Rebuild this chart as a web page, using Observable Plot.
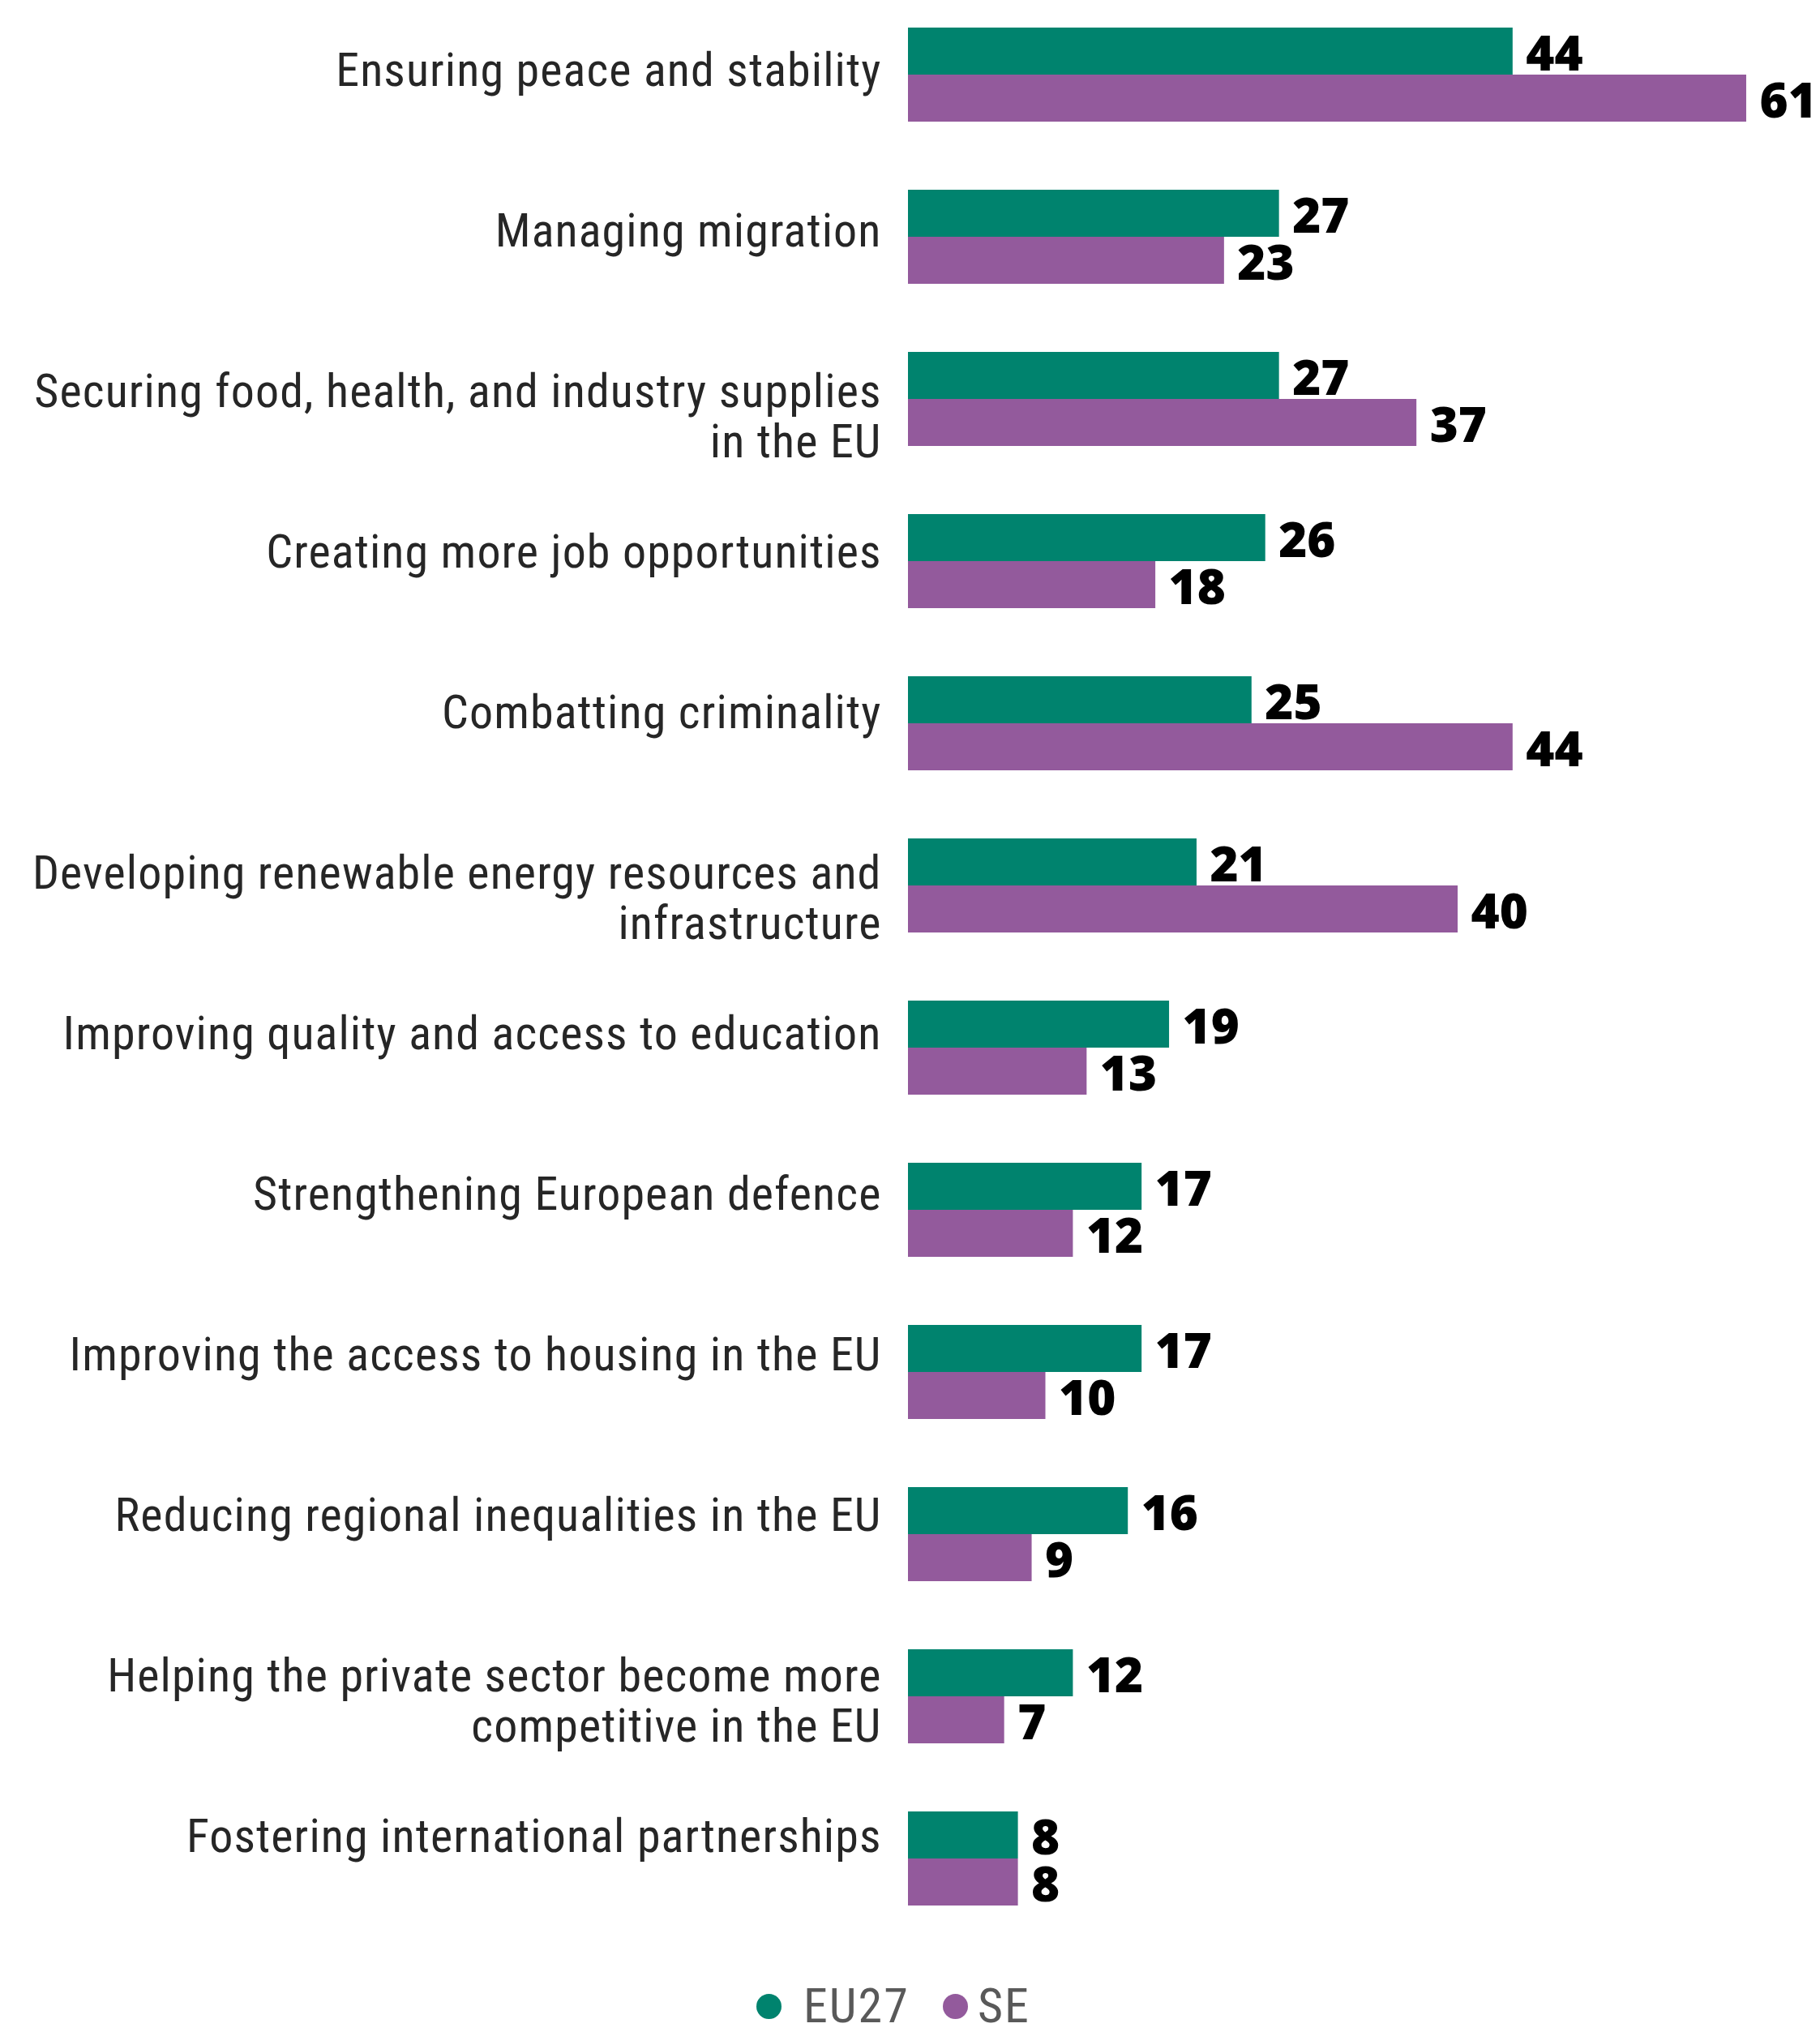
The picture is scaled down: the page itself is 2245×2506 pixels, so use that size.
<!DOCTYPE html>
<html>
<head>
<meta charset="utf-8">
<script src="https://cdn.jsdelivr.net/npm/d3@7"></script>
<script src="https://cdn.jsdelivr.net/npm/@observablehq/plot@0.6"></script>
<style>
  html, body { margin: 0; padding: 0; background: #ffffff; }
  #chart { position: relative; width: 2245px; height: 2400px; }
  #chart svg { display: block; position: absolute; left: 0; top: 0; }
  #chart g[font-size="58"] { letter-spacing: 1.1px; }
  #legend {
    height: 106px; position: relative;
    font-family: "Liberation Sans Narrow", "Roboto Condensed", Roboto, sans-serif;
    font-size: 60px; letter-spacing: 2px; color: #595959;
  }
  #legend .item { position: absolute; top: 44px; display: flex; align-items: center; line-height: 1; }
  #legend .sw { width: 31px; height: 31px; border-radius: 50%; display: inline-block; }
</style>
</head>
<body>
<div id="chart"></div>
<div id="legend"></div>
<script>
const categories = [
  "Ensuring peace and stability",
  "Managing migration",
  "Securing food, health, and industry supplies\nin the EU",
  "Creating more job opportunities",
  "Combatting criminality",
  "Developing renewable energy resources and\ninfrastructure",
  "Improving quality and access to education",
  "Strengthening European defence",
  "Improving the access to housing in the EU",
  "Reducing regional inequalities in the EU",
  "Helping the private sector become more\ncompetitive in the EU",
  "Fostering international partnerships"
];
const eu27 = [44, 27, 27, 26, 25, 21, 19, 17, 17, 16, 12, 8];
const se   = [61, 23, 37, 18, 44, 40, 13, 12, 10,  9,  7, 8];
const series = ["EU27", "SE"];
const colors = ["#00836e", "#935a9c"];

const data = categories.flatMap((c, i) => [
  {category: c, series: "EU27", value: eu27[i]},
  {category: c, series: "SE", value: se[i]}
]);

const labelFont = `"Liberation Sans Narrow", "Roboto Condensed", Roboto, sans-serif`;
const valueFont = `"Open Sans", "Noto Sans", sans-serif`;

// Bars and value labels
const bars = Plot.plot({
  width: 2245,
  height: 2400,
  marginLeft: 1120,
  marginRight: 0,
  marginTop: 0,
  marginBottom: 0,
  x: {domain: [0, 66.37], axis: null},
  fy: {domain: categories, padding: 0, axis: null},
  y: {domain: series, paddingInner: 0, paddingOuter: 0.709, align: 0.41, axis: null},
  color: {domain: series, range: colors},
  marks: [
    Plot.barX(data, {fy: "category", y: "series", x: "value", fill: "series"}),
    Plot.text(data, {
      fy: "category", y: "series", x: "value",
      text: d => String(d.value),
      textAnchor: "start", dx: 16, dy: 4,
      fontSize: 60, fontWeight: 800, fontFamily: valueFont, fill: "#000"
    })
  ]
});

// Category labels (laid out on their own, slightly tighter row grid as in the original)
const labels = Plot.plot({
  width: 2245,
  height: 2400,
  marginLeft: 1120,
  marginRight: 0,
  marginTop: 0,
  marginBottom: 22,
  x: {domain: [0, 66.37], axis: null},
  fy: {domain: categories, padding: 0, axis: null},
  marks: [
    Plot.text(categories, {
      fy: d => d, x: 0,
      text: d => d,
      frameAnchor: "top", lineAnchor: "top", dy: 60, dx: -33,
      textAnchor: "end", lineHeight: 62 / 58,
      fontSize: 58, fontFamily: labelFont, fill: "#262626"
    })
  ]
});
labels.style.background = "transparent";

const chartDiv = document.getElementById("chart");
chartDiv.appendChild(bars);
chartDiv.appendChild(labels);

// Legend (HTML, below the SVG)
const legend = document.getElementById("legend");
const legendPos = [{left: 933, gap: 27}, {left: 1163, gap: 12}];
series.forEach((s, i) => {
  const item = document.createElement("div");
  item.className = "item";
  item.style.left = legendPos[i].left + "px";
  const sw = document.createElement("span");
  sw.className = "sw";
  sw.style.background = colors[i];
  sw.style.marginRight = legendPos[i].gap + "px";
  const tx = document.createElement("span");
  tx.textContent = s;
  item.appendChild(sw);
  item.appendChild(tx);
  legend.appendChild(item);
});
</script>
</body>
</html>
